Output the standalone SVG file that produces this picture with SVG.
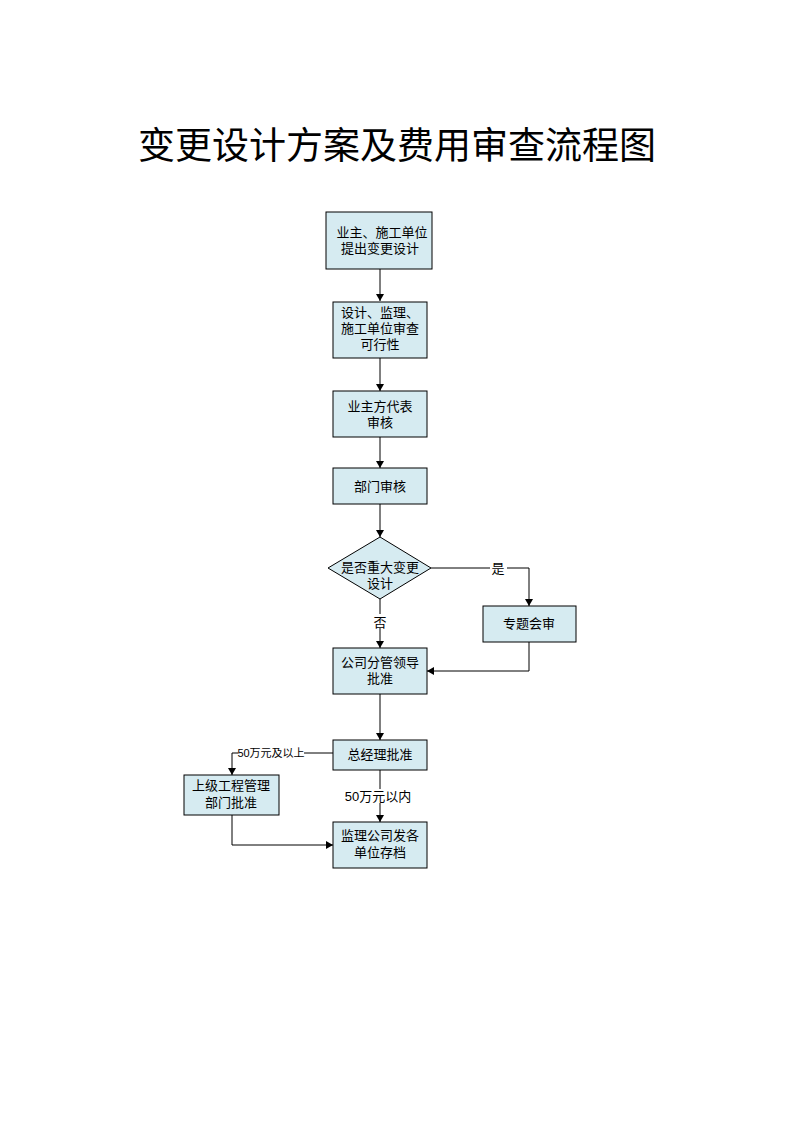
<svg xmlns="http://www.w3.org/2000/svg" width="794" height="1123" viewBox="0 0 794 1123">
<style>
.box{fill:#d6ebf1;stroke:#000;stroke-width:1}
.t{font-family:"Liberation Sans","Noto Sans CJK SC",sans-serif;font-size:13px;fill:#000;text-anchor:middle}
.s{font-family:"Liberation Sans","Noto Sans CJK SC",sans-serif;font-size:11px;fill:#000;text-anchor:middle}
.c{fill:none;stroke:#000;stroke-width:1}
.title{font-family:"Liberation Sans","Noto Sans CJK SC",sans-serif;font-size:37px;fill:#000;text-anchor:middle}
</style>
<defs>
<marker id="ah" markerWidth="8" markerHeight="8" refX="7" refY="4" orient="auto" markerUnits="userSpaceOnUse">
<path d="M0,0 L7,4 L0,8 Z" fill="#000"/>
</marker>
</defs>
<rect width="794" height="1123" fill="#fff"/>
<text class="title" x="397" y="159">变更设计方案及费用审查流程图</text>
<g id="connectors">
<path class="c" d="M380,269 V301" marker-end="url(#ah)"/>
<path class="c" d="M380,358 V391" marker-end="url(#ah)"/>
<path class="c" d="M380,437 V468" marker-end="url(#ah)"/>
<path class="c" d="M380,504 V537" marker-end="url(#ah)"/>
<path class="c" d="M431,568 H529 V606" marker-end="url(#ah)"/>
<path class="c" d="M380,599 V648" marker-end="url(#ah)"/>
<path class="c" d="M529,642 V671 H427" marker-end="url(#ah)"/>
<path class="c" d="M380,694 V740" marker-end="url(#ah)"/>
<path class="c" d="M333,753 H232 V775" marker-end="url(#ah)"/>
<path class="c" d="M380,770 V822" marker-end="url(#ah)"/>
<path class="c" d="M232,815 V845 H333" marker-end="url(#ah)"/>
<rect x="490" y="561" width="17" height="14" fill="#fff"/>
<text class="t" x="498" y="573">是</text>
<rect x="372" y="614" width="16" height="14" fill="#fff"/>
<text class="t" x="380" y="627">否</text>
<rect x="238" y="746" width="66" height="14" fill="#fff"/>
<text class="s" x="271" y="757">50万元及以上</text>
<rect x="346" y="789" width="64" height="14" fill="#fff"/>
<text class="t" x="378" y="801">50万元以内</text>
</g>
<g id="n1"><rect class="box" x="326" y="212" width="106" height="57"/><text class="t" x="382" y="237">业主、施工单位</text><text class="t" x="380" y="253">提出变更设计</text></g>
<g id="n2"><rect class="box" x="333" y="302" width="94" height="56"/><text class="t" x="380" y="317">设计、监理、</text><text class="t" x="380" y="333">施工单位审查</text><text class="t" x="380" y="349">可行性</text></g>
<g id="n3"><rect class="box" x="333" y="391" width="94" height="46"/><text class="t" x="380" y="411">业主方代表</text><text class="t" x="380" y="427">审核</text></g>
<g id="n4"><rect class="box" x="333" y="468" width="94" height="36"/><text class="t" x="380" y="491">部门审核</text></g>
<g id="n5"><polygon class="box" points="380,537 431,568 380,599 328,568"/><text class="t" x="380" y="572">是否重大变更</text><text class="t" x="380" y="588">设计</text></g>
<g id="n6"><rect class="box" x="483" y="606" width="93" height="36"/><text class="t" x="529" y="628">专题会审</text></g>
<g id="n7"><rect class="box" x="333" y="648" width="94" height="46"/><text class="t" x="380" y="667">公司分管领导</text><text class="t" x="380" y="683">批准</text></g>
<g id="n8"><rect class="box" x="333" y="740" width="94" height="30"/><text class="t" x="380" y="759">总经理批准</text></g>
<g id="n9"><rect class="box" x="184" y="775" width="95" height="40"/><text class="t" x="231" y="790">上级工程管理</text><text class="t" x="231" y="807">部门批准</text></g>
<g id="n10"><rect class="box" x="333" y="822" width="94" height="46"/><text class="t" x="380" y="840">监理公司发各</text><text class="t" x="380" y="857">单位存档</text></g>
</svg>
